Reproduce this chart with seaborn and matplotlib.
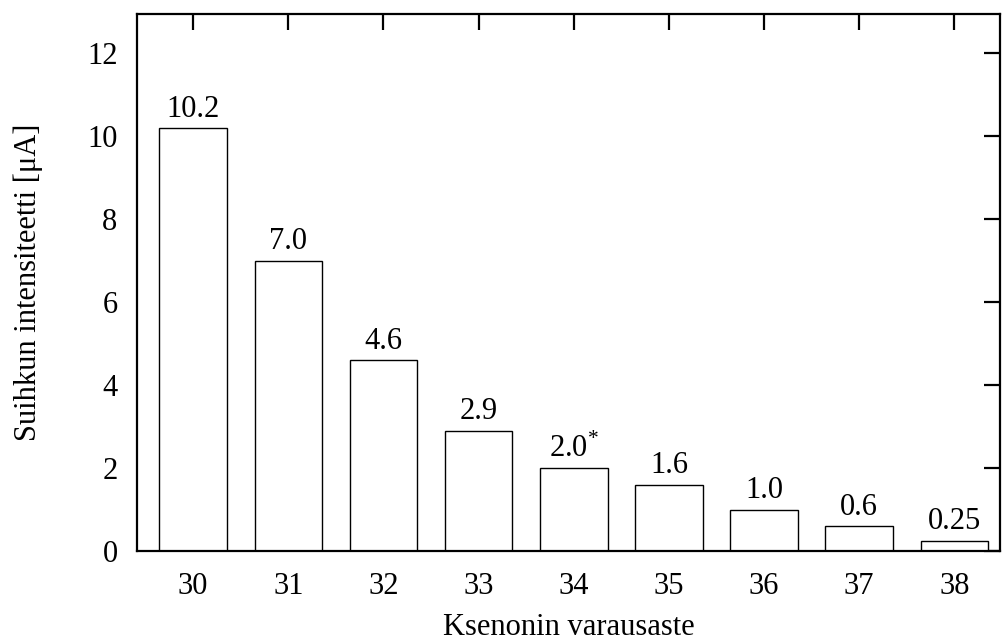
import matplotlib
matplotlib.use("Agg")
import matplotlib.pyplot as plt
import seaborn as sns
import pandas as pd

charge = [30, 31, 32, 33, 34, 35, 36, 37, 38]
intensity = [10.2, 7.0, 4.6, 2.9, 2.0, 1.6, 1.0, 0.6, 0.25]
labels = ["10.2", "7.0", "4.6", "2.9", "2.0", "1.6", "1.0", "0.6", "0.25"]
starred = [34]
yticks = [0, 2, 4, 6, 8, 10, 12]

sns.set_theme(style="white")
plt.rcParams['font.family'] = ['Liberation Serif', 'DejaVu Serif']
plt.rcParams['mathtext.fontset'] = 'custom'
plt.rcParams['mathtext.rm'] = 'Liberation Serif'

FS = 22

df = pd.DataFrame({"charge": charge, "intensity": intensity})

fig = plt.figure(figsize=(10.03, 6.43), dpi=100)
ax = fig.add_axes([137/1003, 1 - 551/643, (1000 - 137)/1003, (551 - 14)/643])

sns.barplot(data=df, x="charge", y="intensity", native_scale=True, width=0.71,
            color="white", edgecolor="black", linewidth=1.0, ax=ax, zorder=1)

ax.set_xlim(29.41, 38.48)
ax.set_ylim(0, 12.94)
ax.set_xticks(charge)
ax.set_yticks(yticks)
ax.tick_params(direction="in", length=11.5, width=1.6, top=True, right=True,
               labelsize=FS, color="black", labelcolor="black")
ax.tick_params(axis="y", pad=14)
ax.tick_params(axis="x", pad=15)
ax.set_xticklabels([str(c) for c in charge], fontsize=FS)
ax.set_yticklabels([str(t) for t in yticks], fontsize=FS)
for s in ax.spines.values():
    s.set_visible(True)
    s.set_linewidth(1.6)
    s.set_color("black")
    s.set_zorder(5)

for c, v, lab in zip(charge, intensity, labels):
    txt = lab + ("$^{*}$" if c in starred else "")
    ax.annotate(txt, (c, v), xytext=(0, 3), textcoords="offset points",
                ha="center", va="bottom", fontsize=FS, color="black")

ax.set_xlabel("Ksenonin varausaste", fontsize=FS, labelpad=9, color="black")
ax.set_ylabel("Suihkun intensiteetti [μA]", fontsize=FS, labelpad=32, color="black")
ax.grid(False)

fig.savefig("out.png", dpi=100)
